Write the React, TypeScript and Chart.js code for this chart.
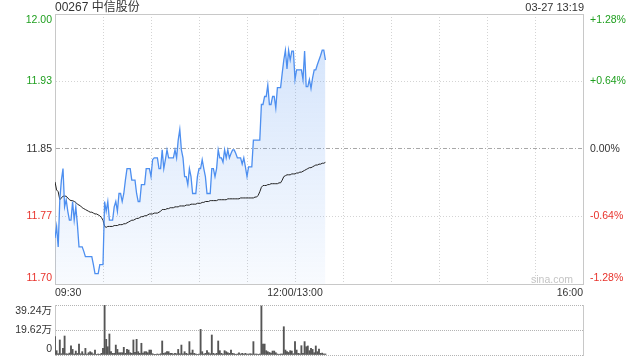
import React, { useEffect, useRef } from 'react';
import { Chart, registerables } from 'chart.js';

Chart.register(...registerables);

const STOCK_TITLE = '00267 中信股份';
const TIMESTAMP = '03-27 13:19';
const WATERMARK = 'sina.com';
const PREV_CLOSE = 11.85;
const PCT_TICKS = [-1.28, -0.64, 0, 0.64, 1.28];
const X_MAX = 330;
const X_GRID_POS = [0, 30, 60, 90, 120, 150, 180, 210, 240, 270, 300, 330];
const X_LABEL_POS = [0, 150, 330];
const X_LABEL_TEXT = ['09:30', '12:00/13:00', '16:00'];
const VOL_TICKS = [0, 19.62, 39.24];
const VOL_TICK_LABELS = ['0', '19.62万', '39.24万'];

// minute-by-minute last price (09:30 ... 13:19)
const PRICE = [
  11.750, 11.763, 11.740, 11.793, 11.815, 11.828, 11.785, 11.793, 11.780, 11.770,
  11.770, 11.791, 11.770, 11.785, 11.765, 11.740, 11.740, 11.740, 11.735, 11.729,
  11.729, 11.729, 11.729, 11.729, 11.720, 11.710, 11.710, 11.710, 11.720, 11.720,
  11.720, 11.791, 11.780, 11.791, 11.770, 11.770, 11.770, 11.785, 11.791, 11.780,
  11.800, 11.800, 11.791, 11.800, 11.815, 11.828, 11.828, 11.828, 11.815, 11.815,
  11.815, 11.800, 11.791, 11.791, 11.810, 11.810, 11.810, 11.828, 11.828, 11.828,
  11.819, 11.838, 11.840, 11.840, 11.840, 11.828, 11.828, 11.849, 11.828, 11.838,
  11.849, 11.840, 11.840, 11.840, 11.840, 11.849, 11.840, 11.860, 11.872, 11.849,
  11.840, 11.819, 11.819, 11.810, 11.828, 11.819, 11.800, 11.800, 11.800, 11.819,
  11.828, 11.828, 11.838, 11.828, 11.819, 11.800, 11.800, 11.800, 11.828, 11.828,
  11.819, 11.828, 11.849, 11.840, 11.840, 11.835, 11.849, 11.840, 11.849, 11.840,
  11.845, 11.849, 11.849, 11.845, 11.840, 11.840, 11.840, 11.833, 11.840, 11.830,
  11.819, 11.830, 11.830, 11.830, 11.860, 11.860, 11.860, 11.860, 11.860, 11.900,
  11.900, 11.909, 11.909, 11.922, 11.900, 11.900, 11.909, 11.909, 11.896, 11.919,
  11.919, 11.919, 11.935, 11.950, 11.961, 11.940, 11.961, 11.950, 11.960, 11.960,
  11.928, 11.939, 11.939, 11.939, 11.939, 11.928, 11.960, 11.920, 11.920, 11.928,
  11.918, 11.930, 11.939, 11.939, 11.945, 11.950, 11.955, 11.961, 11.961, 11.950,
];

// minute-by-minute average price
const AVG_PRICE = [
  11.813, 11.804, 11.802, 11.793, 11.795, 11.797, 11.797, 11.797, 11.795, 11.793,
  11.792, 11.792, 11.791, 11.790, 11.788, 11.787, 11.786, 11.784, 11.783, 11.782,
  11.781, 11.780, 11.779, 11.779, 11.778, 11.777, 11.777, 11.776, 11.775, 11.773,
  11.770, 11.763, 11.762, 11.763, 11.763, 11.763, 11.763, 11.764, 11.764, 11.764,
  11.765, 11.765, 11.765, 11.766, 11.766, 11.767, 11.768, 11.769, 11.770, 11.770,
  11.771, 11.772, 11.772, 11.773, 11.774, 11.774, 11.775, 11.775, 11.776, 11.777,
  11.777, 11.777, 11.778, 11.778, 11.778, 11.779, 11.780, 11.782, 11.782, 11.782,
  11.783, 11.783, 11.784, 11.784, 11.784, 11.785, 11.785, 11.785, 11.786, 11.786,
  11.786, 11.786, 11.787, 11.787, 11.787, 11.788, 11.788, 11.788, 11.788, 11.789,
  11.789, 11.789, 11.790, 11.790, 11.791, 11.791, 11.791, 11.792, 11.792, 11.792,
  11.792, 11.792, 11.793, 11.793, 11.793, 11.793, 11.793, 11.793, 11.794, 11.794,
  11.794, 11.794, 11.794, 11.794, 11.794, 11.794, 11.795, 11.795, 11.795, 11.795,
  11.795, 11.795, 11.795, 11.795, 11.795, 11.796, 11.796, 11.798, 11.802, 11.807,
  11.809, 11.809, 11.809, 11.810, 11.810, 11.811, 11.811, 11.811, 11.811, 11.811,
  11.812, 11.812, 11.815, 11.819, 11.820, 11.821, 11.821, 11.821, 11.822, 11.822,
  11.822, 11.823, 11.823, 11.824, 11.824, 11.825, 11.826, 11.827, 11.828, 11.829,
  11.829, 11.830, 11.831, 11.832, 11.832, 11.833, 11.833, 11.834, 11.834, 11.835,
];

// minute volume, in 万 shares
const VOLUME = [
  14.4, 3.4, 1.0, 11.8, 1.0, 5.2, 14.9, 1.0, 0.8, 1.5,
  7.1, 4.4, 0.8, 3.1, 1.2, 8.6, 1.0, 2.6, 0.8, 5.2,
  0.8, 1.8, 2.6, 1.8, 0.8, 3.9, 0.5, 0.8, 0.5, 1.3,
  5.2, 39.2, 12.3, 6.5, 16.5, 2.6, 1.3, 1.3, 7.8, 4.4,
  1.8, 1.8, 1.8, 6.0, 1.3, 4.4, 3.9, 1.8, 1.3, 11.8,
  2.0, 12.3, 2.6, 1.3, 9.2, 1.5, 2.6, 2.6, 1.8, 3.9,
  3.9, 1.0, 0.5, 0.5, 0.8, 0.5, 1.0, 11.0, 1.3, 1.8,
  2.6, 2.6, 1.3, 1.3, 0.8, 1.3, 1.0, 4.4, 1.0, 7.8,
  1.0, 2.6, 1.3, 0.8, 10.5, 1.5, 3.9, 1.3, 0.8, 0.5,
  0.8, 20.1, 2.6, 0.8, 1.3, 3.4, 1.8, 1.0, 15.7, 1.3,
  0.8, 1.3, 11.0, 3.4, 1.3, 0.8, 3.4, 2.6, 1.8, 1.3,
  3.9, 1.3, 1.0, 0.5, 0.8, 1.8, 0.8, 1.3, 0.8, 1.3,
  0.8, 0.8, 1.0, 0.8, 10.5, 0.8, 0.8, 0.5, 0.8, 38.5,
  8.6, 8.6, 3.4, 2.6, 2.0, 1.5, 3.1, 3.1, 1.8, 0.8,
  0.5, 0.8, 0.8, 22.2, 3.9, 2.6, 2.0, 3.4, 3.1, 1.0,
  10.5, 3.9, 1.3, 1.0, 7.3, 1.3, 10.5, 6.5, 7.1, 3.4,
  5.2, 4.4, 1.8, 7.1, 2.6, 4.7, 1.3, 1.5, 0.8, 0.8,
];

const FONT_FAMILY = '"Liberation Sans", Arial, "Noto Sans CJK SC", sans-serif';
const TEXT_COLOR = '#333333';
const UP_COLOR = '#1f9f1f';
const DOWN_COLOR = '#e8322b';
const LINE_BLUE = '#4d8ff0';
const BORDER_COLOR = '#c8c8c8';
const GRID_COLOR = '#d4d4d4';

const PRICE_TICKS = PCT_TICKS.map((p) => PREV_CLOSE * (1 + p / 100));

function innerLabel(text: string, index: number, count: number): string | string[] {
  if (index === count - 1) return ['', text];
  if (index === 0) return [text, ''];
  return text;
}

function colorForIndex(i: number): string {
  const p = PCT_TICKS[i];
  if (p > 0) return UP_COLOR;
  if (p < 0) return DOWN_COLOR;
  return TEXT_COLOR;
}

function zeroPad(scale: any) {
  scale.paddingTop = 0;
  scale.paddingBottom = 0;
  scale.paddingLeft = 0;
  scale.paddingRight = 0;
}

export default function App() {
  const priceRef = useRef<HTMLCanvasElement | null>(null);
  const volRef = useRef<HTMLCanvasElement | null>(null);

  useEffect(() => {
    Chart.defaults.font.family = FONT_FAMILY;
    const tickFont = { size: 10.5, family: FONT_FAMILY };

    const priceChart = new Chart(priceRef.current as HTMLCanvasElement, {
      type: 'line',
      data: {
        datasets: [
          {
            data: PRICE.map((v, i) => ({ x: i, y: v })),
            borderColor: LINE_BLUE,
            borderWidth: 1.3,
            pointRadius: 0,
            tension: 0,
            fill: 'start',
            backgroundColor: (ctx: any) => {
              const chart = ctx.chart;
              const area = chart.chartArea;
              if (!area) return 'rgba(77,143,240,0.12)';
              const g = chart.ctx.createLinearGradient(0, area.top, 0, area.bottom);
              g.addColorStop(0, 'rgba(77,143,240,0.26)');
              g.addColorStop(1, 'rgba(77,143,240,0.04)');
              return g;
            },
          },
          {
            data: AVG_PRICE.map((v, i) => ({ x: i, y: v })),
            borderColor: '#222222',
            borderWidth: 1,
            pointRadius: 0,
            tension: 0,
            fill: false,
          },
        ],
      },
      options: {
        animation: false,
        responsive: false,
        devicePixelRatio: 1,
        events: [],
        layout: { padding: { top: 14, left: 0, right: 0, bottom: 0 } },
        plugins: {
          legend: { display: false },
          tooltip: { enabled: false },
          filler: { drawTime: 'beforeDatasetsDraw' },
        } as any,
        scales: {
          x: {
            type: 'linear',
            min: 0,
            max: X_MAX,
            afterBuildTicks: (scale: any) => {
              scale.ticks = X_GRID_POS.map((v) => ({ value: v }));
            },
            afterFit: (scale: any) => {
              scale.height = 16;
              zeroPad(scale);
            },
            ticks: {
              autoSkip: false,
              maxRotation: 0,
              align: 'inner',
              padding: 3,
              color: TEXT_COLOR,
              font: tickFont,
              callback: (value: any) => {
                const k = X_LABEL_POS.indexOf(Number(value));
                return k >= 0 ? X_LABEL_TEXT[k] : '';
              },
            },
            grid: { color: GRID_COLOR, drawTicks: false, lineWidth: 1 },
            border: { color: BORDER_COLOR, dash: [1, 2] },
          },
          y: {
            position: 'left',
            min: PRICE_TICKS[0],
            max: PRICE_TICKS[PRICE_TICKS.length - 1],
            afterBuildTicks: (scale: any) => {
              scale.ticks = PRICE_TICKS.map((v) => ({ value: v }));
            },
            afterFit: (scale: any) => {
              scale.width = 55;
              zeroPad(scale);
            },
            ticks: {
              autoSkip: false,
              padding: 3,
              font: tickFont,
              color: (ctx: any) => colorForIndex(ctx.index),
              callback: (value: any, index: number) =>
                innerLabel(Number(value).toFixed(2), index, PRICE_TICKS.length),
            },
            grid: {
              drawTicks: false,
              color: (ctx: any) => {
                if (ctx.index === 2) return '#a8a8a8';
                if (ctx.index === PRICE_TICKS.length - 1 || ctx.index === 0) return BORDER_COLOR;
                return GRID_COLOR;
              },
            },
            border: {
              color: BORDER_COLOR,
              dash: (ctx: any) => {
                if (!ctx || ctx.index === undefined) return [];
                if (ctx.index === 2) return [4, 2, 1, 2];
                if (ctx.index === PRICE_TICKS.length - 1 || ctx.index === 0) return [];
                return [1, 2];
              },
            },
          },
          y2: {
            position: 'right',
            min: PRICE_TICKS[0],
            max: PRICE_TICKS[PRICE_TICKS.length - 1],
            afterBuildTicks: (scale: any) => {
              scale.ticks = PRICE_TICKS.map((v) => ({ value: v }));
            },
            afterFit: (scale: any) => {
              scale.width = 57;
              zeroPad(scale);
            },
            ticks: {
              autoSkip: false,
              padding: 7,
              font: tickFont,
              color: (ctx: any) => colorForIndex(ctx.index),
              callback: (_value: any, index: number) => {
                const p = PCT_TICKS[index];
                const txt = (p > 0 ? '+' : '') + p.toFixed(2) + '%';
                return innerLabel(txt, index, PCT_TICKS.length);
              },
            },
            grid: { drawOnChartArea: false, drawTicks: false },
            border: { color: BORDER_COLOR },
          },
        },
      } as any,
    });

    const volChart = new Chart(volRef.current as HTMLCanvasElement, {
      type: 'bar',
      data: {
        datasets: [
          {
            data: VOLUME.map((v, i) => ({ x: i, y: v })),
            backgroundColor: '#555555',
            borderWidth: 0,
            barThickness: 1.2,
          } as any,
        ],
      },
      options: {
        animation: false,
        responsive: false,
        devicePixelRatio: 1,
        events: [],
        layout: { padding: { top: 5, left: 0, right: 0, bottom: 5 } },
        plugins: { legend: { display: false }, tooltip: { enabled: false } },
        scales: {
          x: { type: 'linear', min: 0, max: X_MAX, display: false, offset: false },
          y: {
            position: 'left',
            min: VOL_TICKS[0],
            max: VOL_TICKS[VOL_TICKS.length - 1],
            afterBuildTicks: (scale: any) => {
              scale.ticks = VOL_TICKS.map((v) => ({ value: v }));
            },
            afterFit: (scale: any) => {
              scale.width = 55;
              zeroPad(scale);
            },
            ticks: {
              autoSkip: false,
              padding: 3,
              font: tickFont,
              color: TEXT_COLOR,
              callback: (_value: any, index: number) =>
                innerLabel(VOL_TICK_LABELS[index], index, VOL_TICKS.length),
            },
            grid: { color: '#b4b4b4', drawTicks: false, lineWidth: 1 },
            border: { color: BORDER_COLOR, dash: [1, 1] },
          },
          y2: {
            position: 'right',
            min: VOL_TICKS[0],
            max: VOL_TICKS[VOL_TICKS.length - 1],
            afterFit: (scale: any) => {
              scale.width = 57;
              zeroPad(scale);
            },
            ticks: { display: false },
            grid: { drawOnChartArea: false, drawTicks: false },
            border: { color: BORDER_COLOR },
          },
        },
      } as any,
    });

    return () => {
      priceChart.destroy();
      volChart.destroy();
    };
  }, []);

  return (
    <div
      style={{
        position: 'absolute',
        left: 0,
        top: 0,
        width: 640,
        height: 360,
        overflow: 'hidden',
        background: '#ffffff',
        fontFamily: FONT_FAMILY,
      }}
    >
      <canvas
        ref={priceRef}
        width={640}
        height={300}
        style={{ position: 'absolute', left: 0, top: 0, width: 640, height: 300 }}
      />
      <canvas
        ref={volRef}
        width={640}
        height={60}
        style={{ position: 'absolute', left: 0, top: 300, width: 640, height: 60 }}
      />
      <div
        style={{
          position: 'absolute',
          left: 55,
          top: 0,
          fontSize: 12,
          lineHeight: '14px',
          color: TEXT_COLOR,
          whiteSpace: 'nowrap',
        }}
      >
        {STOCK_TITLE}
      </div>
      <div
        style={{
          position: 'absolute',
          right: 56,
          top: 0,
          fontSize: 11,
          lineHeight: '14px',
          color: TEXT_COLOR,
          whiteSpace: 'nowrap',
        }}
      >
        {TIMESTAMP}
      </div>
      <div
        style={{
          position: 'absolute',
          right: 67,
          top: 272,
          fontSize: 10.5,
          lineHeight: '14px',
          color: '#c4c4c4',
          whiteSpace: 'nowrap',
        }}
      >
        {WATERMARK}
      </div>
    </div>
  );
}
